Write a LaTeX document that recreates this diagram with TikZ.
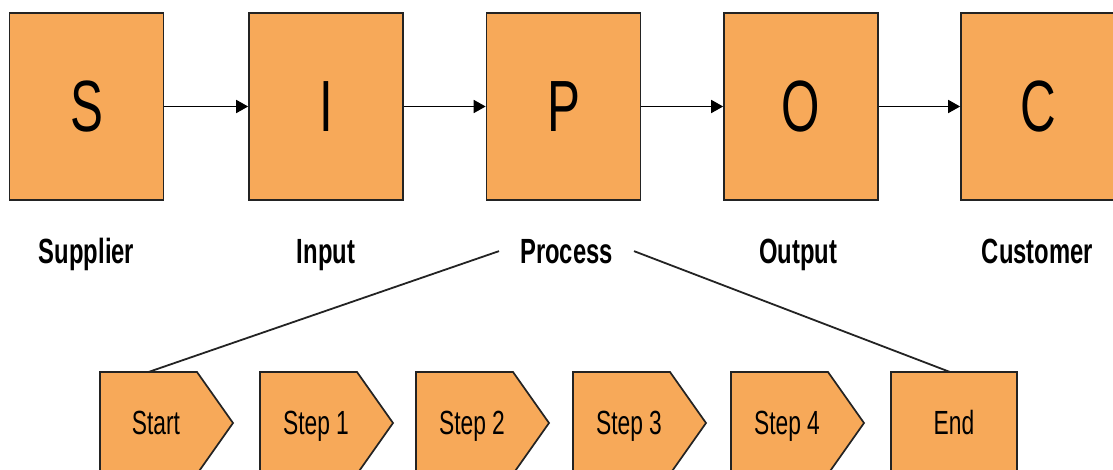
\documentclass[tikz,border=0pt]{standalone}
\usepackage{fontspec}
\setmainfont{Liberation Sans}[FakeStretch=0.68]
\usetikzlibrary{arrows.meta}
\definecolor{boxfill}{RGB}{247,169,89}
\definecolor{edgecol}{RGB}{35,35,35}
\begin{document}
\begin{tikzpicture}[x=1pt,y=-1pt,
  bigbox/.style={draw=edgecol,fill=boxfill,line width=1.7pt,minimum width=154pt,minimum height=187pt,inner sep=0pt,font=\fontsize{72.6}{80}\selectfont},
  caption/.style={font=\fontsize{35}{40}\selectfont\bfseries,anchor=base,inner sep=0pt},
  steptext/.style={font=\fontsize{33.5}{38}\selectfont,anchor=base,inner sep=0pt},
  stepshape/.style={draw=edgecol,fill=boxfill,line width=1.7pt,line join=miter},
  flow/.style={line width=1.8pt,draw=black,-{Triangle[length=12pt,width=13pt]}},
  link/.style={line width=1.8pt,draw=edgecol}]
\useasboundingbox (0,0) rectangle (1113,470);
\clip (0,0) rectangle (1113,470);
\fill[white] (0,0) rectangle (1113,470);

% top SIPOC boxes
\node[bigbox] (s) at (86.5,106.5) {S};
\node[bigbox] (i) at (326,106.5) {I};
\node[bigbox] (p) at (563.5,106.5) {P};
\node[bigbox] (o) at (801,106.5) {O};
\node[bigbox] (c) at (1038,106.5) {C};

\draw[flow] (s) -- (i);
\draw[flow] (i) -- (p);
\draw[flow] (p) -- (o);
\draw[flow] (o) -- (c);

% captions
\node[caption] (supplier) at (86.5,263) {Supplier};
\node[caption] (input) at (326,263) {Input};
\node[caption,inner xsep=21pt] (proc) at (566.5,263) {Process};
\node[caption] (output) at (798,263) {Output};
\node[caption] (customer) at (1037.5,263) {Customer};

% process steps
\foreach \x/\t/\n in {100/Start/st,260/Step 1/sa,416/Step 2/sb,573/Step 3/sc,731/Step 4/sd}{
  \draw[stepshape] (\x,372) -- ++(97,0) -- ++(36,51) -- ++(-36,51) -- ++(-97,0) -- cycle;
  \node[steptext] (\n) at (\x+56,434) {\t};
}
\draw[stepshape] (891,372) rectangle (1017,474);
\node[steptext] (endl) at (954,434) {End};

\coordinate (starttop) at (148.5,372);
\coordinate (endtop) at (950,372);
\draw[link] (proc.west) -- (starttop);
\draw[link] (proc.east) -- (endtop);
\end{tikzpicture}
\end{document}
